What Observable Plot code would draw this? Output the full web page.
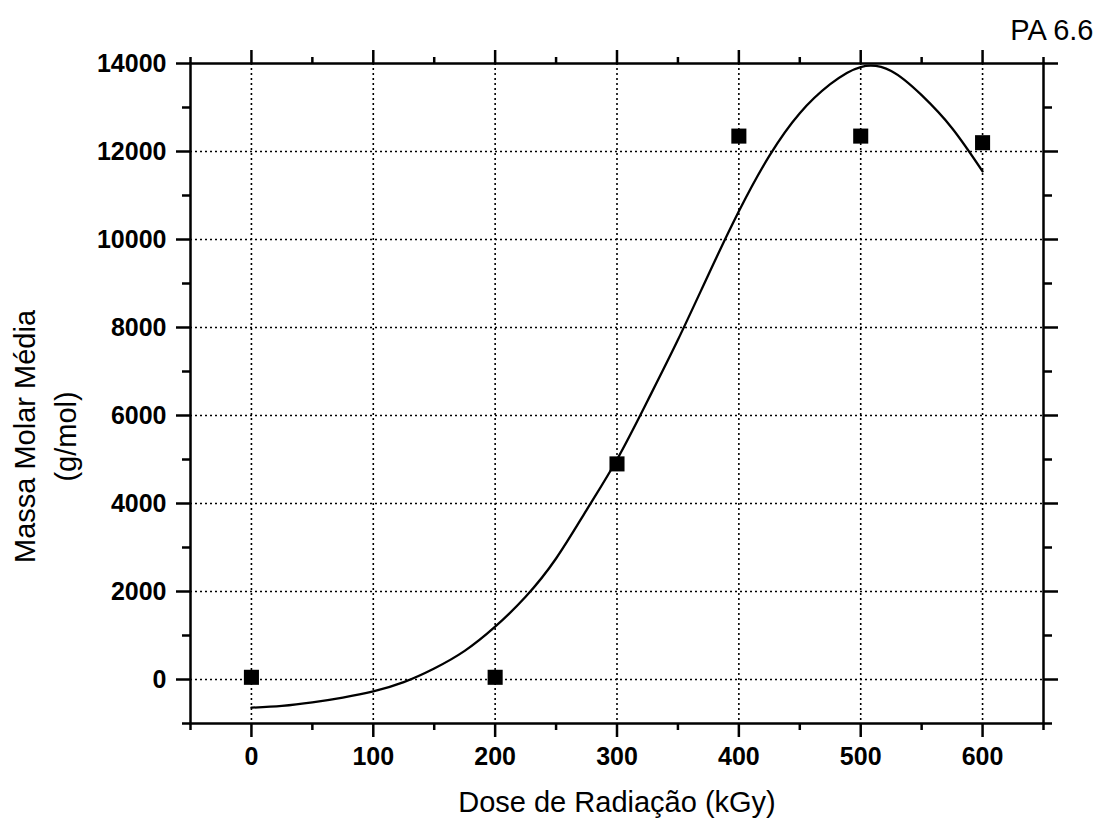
<!DOCTYPE html>
<html><head><meta charset="utf-8">
<script src="https://cdn.jsdelivr.net/npm/d3@7"></script>
<script src="https://cdn.jsdelivr.net/npm/@observablehq/plot@0.6"></script>
<style>body{margin:0;background:#fff}</style>
</head><body><div id="chart"></div>
<script>
// measured points
const doseKGy = [0, 200, 300, 400, 500, 600];
const massaMolar = [50, 50, 4900, 12350, 12350, 12200];
// fitted curve, every 25 kGy
const fitDose = [0, 25, 50, 75, 100, 125, 150, 175, 200, 225, 250, 275, 300, 325, 350, 375, 400, 425, 450, 475, 500, 525, 550, 575, 600];
const fitMassa = [-640, -600, -520, -410, -270, -60, 250, 650, 1200, 1880, 2750, 3850, 5000, 6330, 7720, 9200, 10640, 11900, 12870, 13530, 13920, 13830, 13280, 12530, 11550];
// ticks
const xMajorTicks = [0, 100, 200, 300, 400, 500, 600];
const xMinorTicks = [-50, 50, 150, 250, 350, 450, 550, 650];
const yMajorTicks = [0, 2000, 4000, 6000, 8000, 10000, 12000, 14000];
const yMinorTicks = [-1000, 1000, 3000, 5000, 7000, 9000, 11000, 13000];
// texts
const xTitle = "Dose de Radiação (kGy)";
const yTitle1 = "Massa Molar Média";
const yTitle2 = "(g/mol)";
const cornerLabel = "PA 6.6";

const points = doseKGy.map((d, i) => ({dose: d, massa: massaMolar[i]}));
const fit = fitDose.map((d, i) => ({dose: d, massa: fitMassa[i]}));

const font = "Liberation Sans, Arial, sans-serif";
const tickOpts = {label: null, strokeWidth: 2.5, fontSize: 25, fontWeight: "bold", tickFormat: d => String(d)};
const noLabel = {label: null, strokeWidth: 2.5, tickFormat: () => ""};

const chart = Plot.plot({
  width: 1095,
  height: 819,
  marginLeft: 190,
  marginRight: 52,
  marginTop: 63,
  marginBottom: 96,
  style: {fontFamily: font, color: "black", background: "white", overflow: "visible"},
  x: {domain: [-50, 650]},
  y: {domain: [-1000, 14000]},
  marks: [
    Plot.gridX(xMajorTicks, {stroke: "black", strokeOpacity: 1, strokeWidth: 1.6, strokeDasharray: "2,3"}),
    Plot.gridY(yMajorTicks.slice(0, -1), {stroke: "black", strokeOpacity: 1, strokeWidth: 1.6, strokeDasharray: "2,3"}),
    Plot.line(fit, {x: "dose", y: "massa", curve: "natural", stroke: "black", strokeWidth: 2.3}),
    Plot.dot(points, {x: "dose", y: "massa", symbol: "square", r: 8.5, fill: "black", stroke: "none"}),
    Plot.frame({stroke: "black", strokeWidth: 2.5}),
    Plot.axisX({anchor: "bottom", ticks: xMajorTicks, tickSize: 14, tickPadding: 10, ...tickOpts}),
    Plot.axisX({anchor: "bottom", ticks: xMinorTicks, tickSize: 7, ...noLabel}),
    Plot.axisX({anchor: "top", ticks: xMajorTicks, tickSize: 14, ...noLabel}),
    Plot.axisX({anchor: "top", ticks: xMinorTicks, tickSize: 7, ...noLabel}),
    Plot.axisY({anchor: "left", ticks: yMajorTicks, tickSize: 14, tickPadding: 10, ...tickOpts}),
    Plot.axisY({anchor: "left", ticks: yMinorTicks, tickSize: 8, ...noLabel}),
    Plot.axisY({anchor: "right", ticks: yMajorTicks, tickSize: 14, ...noLabel}),
    Plot.axisY({anchor: "right", ticks: yMinorTicks, tickSize: 8, ...noLabel}),
    Plot.text([xTitle], {frameAnchor: "bottom", text: d => d, textAnchor: "middle", dy: 88, lineAnchor: "bottom", fontSize: 29, fill: "black"}),
    Plot.text([yTitle1], {frameAnchor: "left", text: d => d, textAnchor: "middle", rotate: -90, dx: -165, dy: 43, lineAnchor: "middle", fontSize: 29, fill: "black"}),
    Plot.text([yTitle2], {frameAnchor: "left", text: d => d, textAnchor: "middle", rotate: -90, dx: -124, dy: 43, lineAnchor: "middle", fontSize: 29, fill: "black"}),
    Plot.text([cornerLabel], {frameAnchor: "top-right", text: d => d, textAnchor: "end", lineAnchor: "bottom", dx: 50, dy: -24, fontSize: 29, fill: "black"})
  ]
});
document.getElementById("chart").appendChild(chart);
</script>
</body></html>
